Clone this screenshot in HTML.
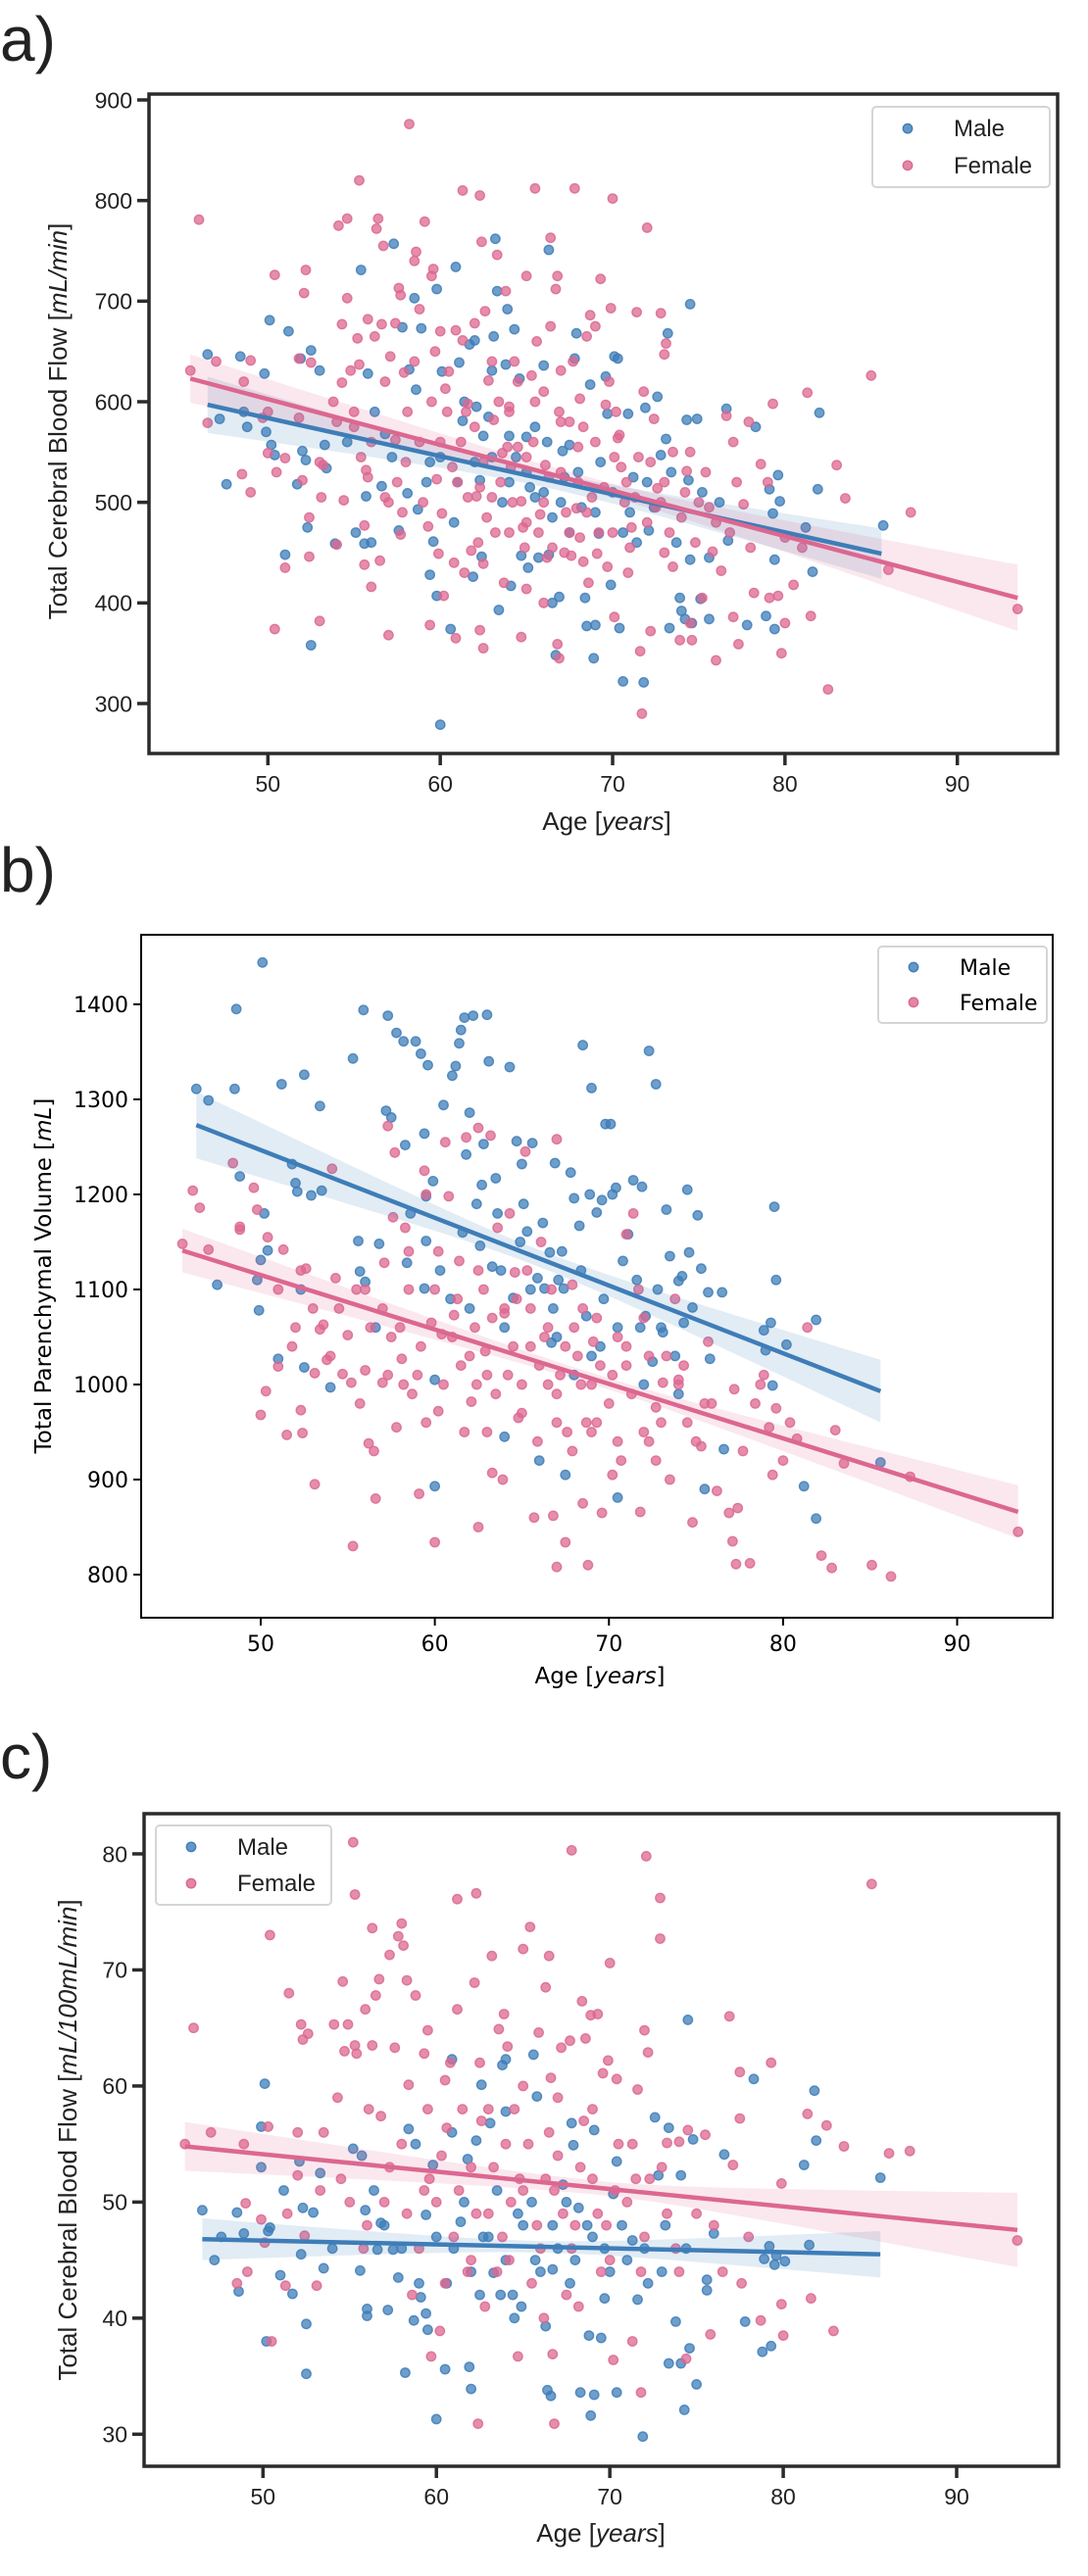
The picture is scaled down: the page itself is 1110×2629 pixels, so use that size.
<!DOCTYPE html>
<html><head><meta charset="utf-8">
<style>
html,body{margin:0;padding:0;background:#fff;}
svg{display:block;}
.lbl{font-family:"Liberation Sans",sans-serif;fill:#222;}
.dv{font-family:"DejaVu Sans","Liberation Sans",sans-serif;fill:#000;}
</style></head>
<body>
<svg id="fig" width="1110" height="2629" viewBox="0 0 1110 2629" xmlns="http://www.w3.org/2000/svg">
<text x="0" y="62" class="lbl" font-size="64" fill="#111">a)</text>
<text x="0" y="910" class="lbl" font-size="64" fill="#111">b)</text>
<text x="0" y="1815" class="lbl" font-size="64" fill="#111">c)</text>
</svg>
<script>
// ---------- Panel a data: Total CBF [mL/min] ----------
const aXTicks=[50,60,70,80,90];
const aYTicks=[300,400,500,600,700,800,900];
const aMale=[[46.5,647],[47.2,583],[47.6,518],[48.4,645],[48.6,590],[48.8,575],[49.8,628],[49.9,570],[50.1,681],[50.2,557],[50.4,547],[51,448],[51.2,670],[51.7,518],[51.9,643],[52,551],[52.2,542],[52.3,475],[52.5,651],[52.5,358],[53,631],[53.3,557],[53.4,534],[53.9,459],[55.1,470],[55.4,731],[55.6,459],[55.7,506],[55.8,628],[56,460],[56.6,516],[56.8,568],[57.3,757],[57.6,472],[57.8,674],[58.1,509],[58.2,632],[58.5,703],[58.7,493],[58.6,612],[58.9,673],[59.4,540],[59.4,428],[59.6,461],[59.8,407],[59.8,712],[60.1,630],[60,279],[60.6,374],[60.9,734],[61.1,639],[61.3,581],[61.7,657],[61.9,426],[62.0,661],[62.1,595],[62.3,522],[62.4,446],[62.5,566],[63.0,631],[63.1,665],[63.3,710],[63.2,762],[63.4,393],[63.8,637],[63.9,692],[64.0,566],[64.1,417],[64.3,672],[64.6,623],[64.7,447],[65.0,565],[65.1,435],[65.5,575],[65.7,445],[66.0,636],[66.3,751],[66.3,448],[66.5,400],[66.7,348],[66.9,406],[67.1,551],[67.5,557],[67.8,643],[67.9,668],[68.4,405],[68.5,377],[68.7,617],[68.9,345],[69.0,378],[69.2,469],[69.6,625],[69.7,588],[69.9,418],[70.1,645],[70.3,643],[70.4,375],[70.6,322],[70.9,588],[71.4,460],[71.8,321],[71.9,594],[72.1,472],[72.6,605],[72.8,547],[73.1,563],[73.2,668],[73.3,375],[73.7,460],[73.9,405],[74.0,392],[74.2,384],[74.3,582],[74.4,522],[74.5,443],[74.5,697],[74.6,380],[74.9,583],[75.1,404],[75.6,445],[75.6,384],[76.6,593],[76.7,462],[77.8,378],[78.3,575],[78.9,387],[79.1,513],[79.3,489],[79.4,374],[79.6,527],[79.7,501],[79.4,443],[81.2,475],[81.6,431],[81.9,513],[82,589],[85.7,477],[62,540],[63,545],[64,520],[65,530],[66,510],[67,500],[68,530],[69,490],[70,510],[71,490],[72,520],[61,520],[60,545],[65.5,505],[66.5,485],[67.5,470],[61.4,600],[62.8,585],[64.4,545],[65.2,515],[66.2,560],[67.2,525],[68.2,495],[69.3,540],[70.6,470],[71.2,525],[72.4,495],[73.4,530],[75.2,510],[76.2,500],[63.6,500],[60.8,480],[59.2,520],[57.2,545],[56.2,590],[54.6,560]];
const aFemale=[[45.5,631],[46.0,781],[46.5,579],[47,640],[48.5,528],[49,510],[49,641],[49.7,584],[50,549],[50.4,726],[50.5,530],[50.4,374],[51,435],[51,544],[51.8,643],[51.8,584],[52,522],[52.1,708],[52.2,731],[52.4,485],[52.4,446],[52.5,639],[53,382],[53.1,505],[53.2,537],[54,458],[54.1,775],[54.3,677],[54.3,619],[54.4,502],[54.6,782],[54.6,703],[54.8,631],[55,575],[55.2,663],[55.3,820],[55.3,637],[55.6,477],[55.6,438],[55.7,532],[55.8,682],[55.8,525],[56,416],[56.3,772],[56.2,665],[56.4,782],[56.6,677],[56.5,442],[56.7,755],[56.8,620],[57,500],[57,368],[57.1,645],[57.4,678],[57.4,562],[57.6,713],[57.7,706],[57.7,468],[57.9,629],[58.1,590],[58.2,876],[58.5,740],[58.6,749],[58.8,692],[59.1,779],[59.3,476],[59.4,378],[59.5,725],[59.6,732],[59.8,523],[59.9,449],[60.1,489],[60.2,407],[60.3,613],[60.5,630],[60.8,440],[60.9,671],[60.9,365],[61.3,810],[61.3,661],[61.6,598],[61.8,452],[62.0,678],[62.1,506],[62.3,805],[62.3,373],[62.4,759],[62.5,355],[62.5,439],[62.8,621],[63.1,582],[63.3,746],[63.6,549],[63.8,710],[64.0,595],[64.3,640],[64.7,501],[64.7,366],[65.0,725],[65.0,414],[65.3,626],[65.5,812],[65.8,488],[66.1,537],[66.4,763],[66.4,675],[66.7,712],[66.8,725],[66.8,359],[66.9,345],[67.0,631],[67.2,450],[67.5,580],[67.6,447],[67.8,812],[67.9,494],[68.1,603],[68.3,441],[68.5,665],[68.7,686],[69.0,675],[69.1,449],[69.3,722],[69.6,597],[69.7,436],[69.9,693],[70.0,802],[70.1,386],[70.3,564],[70.4,567],[70.7,500],[71.1,475],[71.4,689],[71.6,352],[71.7,290],[72,773],[72.2,372],[72.4,583],[72.6,514],[72.8,688],[73,647],[73.1,658],[73.5,436],[73.9,363],[74.3,531],[74.5,550],[74.5,380],[74.6,363],[74.8,460],[75.2,405],[75.6,495],[75.8,451],[76,343],[76.3,432],[76.6,586],[77,386],[77.2,520],[77.3,359],[77.6,498],[77.9,580],[78.2,410],[78.6,538],[79.1,405],[79.3,598],[79.6,407],[79.8,350],[80,380],[80.5,418],[81.3,609],[81.5,387],[82.5,314],[83,537],[83.5,504],[85,626],[86,433],[87.3,490],[93.5,394],[60,560],[61,520],[62,575],[62.5,540],[63,505],[63.5,520],[64,470],[64.5,555],[65,480],[65.5,600],[66,500],[66.5,455],[67,530],[67.5,470],[68,520],[68.5,490],[69,560],[69.5,515],[70,470],[70.5,535],[71,455],[71.5,545],[72,480],[72.5,495],[73,520],[61.5,590],[63,640],[64,590],[65,545],[66,610],[67,580],[68,555],[58,540],[59,500],[57.5,520],[56,560],[58.5,640],[60,670],[64.2,500],[63.2,470],[62.7,485],[65.7,470],[66.2,445],[68.8,505],[70.8,520],[72.8,500],[74,485],[75,500],[76,480],[76.8,470],[78,455],[80,465],[81,455],[77,560],[79,520],[73.5,550],[64.5,620],[61.2,560],[59.5,600],[55,590],[54,580],[53,540],[50,590],[48.6,620],[60.4,590],[61.6,505],[62.2,460],[63.4,600],[64.1,535],[64.8,475],[65.4,560],[66.3,525],[67.3,490],[68.3,575],[69.2,470],[70.2,590],[71.3,505],[72.2,540],[73.3,470],[74.2,510],[75.4,530],[58.8,560],[57.8,490],[56.8,505],[59.7,650],[62.6,690],[65.6,660],[67.7,640],[69.8,620],[71.8,610],[61.4,430],[63.7,420],[66,400],[68.6,420],[70.9,430],[73,450],[55.4,545],[53.8,600],[66.9,590],[63.9,555],[62.3,515],[70.1,545],[68.1,465],[64.9,455],[60.7,535]];
const aMaleFit=[[46.5,597],[85.6,449]];
const aFemaleFit=[[45.5,623],[93.5,405]];
const aMaleCI=[28,8,25];
const aFemaleCI=[24,7,33];

// ---------- Panel b data: Parenchymal volume [mL] ----------
const bXTicks=[50,60,70,80,90];
const bYTicks=[800,900,1000,1100,1200,1300,1400];
const bMale=[[46.3,1311],[47,1299],[47.5,1105],[48.5,1311],[48.6,1395],[48.8,1219],[49.8,1110],[49.9,1078],[50,1131],[50.1,1444],[50.2,1180],[50.4,1141],[51,1027],[51.2,1316],[51.8,1232],[52,1212],[52.1,1203],[52.3,1100],[52.5,1326],[52.5,1018],[52.9,1199],[53.4,1293],[53.5,1204],[54,997],[55.3,1343],[55.6,1151],[55.7,1119],[55.9,1394],[56,1108],[56.6,1060],[56.8,1148],[57.2,1288],[57.3,1388],[57.5,1281],[57.8,1370],[58.2,1361],[58.3,1252],[58.4,1128],[58.9,1361],[59.2,1348],[59.4,1264],[59.5,1198],[59.4,1101],[59.5,1151],[59.6,1336],[59.9,1214],[60,1005],[60.5,1294],[60.9,1090],[61,1325],[61.2,1335],[61.4,1359],[61.5,1373],[61.7,1386],[61.8,1242],[62,1286],[62.2,1388],[62.4,1190],[62.6,1146],[62.8,1253],[63,1389],[63.1,1340],[63.3,1124],[63.5,1217],[63.6,1180],[64.3,1334],[64.5,1091],[64.7,1256],[65,1232],[65.3,1161],[65.6,1254],[65.9,1112],[66.3,1101],[66.6,1139],[66.7,1044],[66.9,1233],[67.1,1110],[67.4,1101],[67.8,1223],[68,1196],[68.3,1167],[68.5,1357],[68.7,1072],[68.9,1200],[69,1312],[69.3,1181],[69.6,1194],[69.8,1274],[70.1,1274],[70.2,1200],[70.4,1207],[70.5,881],[71.1,1158],[71.4,1215],[71.6,1110],[71.9,1208],[72.1,1072],[72.3,1351],[72.5,1024],[72.7,1316],[73.1,1055],[73.3,1184],[73.5,1135],[74,1109],[74.2,1114],[74.3,1065],[74.5,1205],[74.6,1139],[74.8,1081],[75.1,1178],[75.3,1122],[75.8,1027],[75.7,1097],[76.5,1097],[76.6,932],[78.9,1057],[79,1036],[79.3,1065],[79.4,999],[79.5,1187],[79.6,1110],[80.2,1042],[81.2,893],[81.9,1068],[81.9,859],[85.6,918],[62,1080],[64,1060],[65.5,1100],[67,1050],[69,1030],[70.5,1060],[72,1000],[73,1060],[74,990],[75.5,890],[67.5,905],[66,920],[60,893],[64,945],[68,1010],[69.5,1040],[58.6,1180],[60.3,1120],[61.6,1160],[63.8,1120],[64.9,1150],[66.2,1170],[67.3,1140],[68.4,1120],[69.7,1090],[70.8,1130],[71.8,1060],[72.8,1100],[73.8,1030],[66.8,1080],[62.7,1210],[65.1,1190]];
const bFemale=[[45.5,1148],[46.1,1204],[46.5,1186],[47,1142],[48.4,1233],[48.8,1163],[48.8,1166],[49.6,1207],[49.8,1184],[50,968],[50.3,993],[50.4,1155],[51,1019],[51.3,1142],[51.5,947],[51.8,1040],[52.3,1120],[52.3,973],[52.4,949],[52.6,1122],[53.1,1012],[53.1,895],[53.4,1058],[53.6,1063],[53.8,1026],[54.1,1227],[54.3,1112],[54.7,1011],[55,1052],[55.2,1002],[55.3,830],[55.7,980],[56,1015],[56.2,938],[56.5,930],[56.6,880],[57,1002],[57.1,1128],[57.3,1272],[57.6,1176],[57.7,1244],[57.8,955],[58.1,1027],[58.3,1165],[58.5,1140],[58.7,990],[59.1,885],[59.4,1225],[59.5,1200],[59.8,1065],[60,834],[60.2,972],[60.4,1053],[60.6,1255],[60.8,1198],[61.1,1073],[61.4,1130],[61.8,1260],[62.1,982],[62.3,1060],[62.5,1270],[62.5,850],[62.9,1035],[63.2,1262],[63.3,907],[63.6,1165],[64,1075],[64.3,1180],[64.6,1118],[64.8,965],[65.2,1245],[65.5,1040],[65.7,860],[66.1,1150],[66.5,1060],[66.8,862],[67,1258],[67,808],[67.5,834],[67.6,950],[67.9,1105],[68.4,1000],[68.5,875],[68.8,810],[69.1,1045],[69.3,960],[69.6,865],[70.2,905],[70.5,940],[71,1158],[71.4,1180],[71.7,1100],[71.8,866],[72,1070],[72.3,940],[72.7,976],[73.1,1002],[73.5,900],[73.8,1090],[74,1005],[74.3,1020],[74.8,855],[75.3,935],[75.7,1045],[75.9,980],[76.2,888],[76.9,865],[77.1,835],[77.2,995],[77.3,811],[77.4,870],[77.7,930],[78.1,812],[78.4,980],[78.7,1000],[78.9,1010],[79.2,955],[79.4,905],[79.6,975],[80.0,920],[80.4,960],[80.8,943],[81.4,1060],[82.2,820],[82.8,807],[83,952],[83.5,917],[85.1,810],[86.2,798],[87.3,903],[93.5,845],[60,1100],[61,1050],[62,1030],[63,1010],[64,1080],[65,1000],[66,1020],[67,990],[68,1060],[69,1000],[70,980],[71,1020],[72,950],[73,960],[74,1000],[75,940],[58,1060],[59,1010],[57,1080],[56,1100],[61.5,1020],[62.5,1120],[63.5,990],[64.5,1040],[65.5,1080],[66.5,1000],[67.5,1040],[68.5,1080],[69.5,1020],[70.5,1050],[60.5,1000],[59.5,960],[58.5,1100],[57.5,1050],[55.5,1100],[54.5,1080],[63,950],[65,970],[67,960],[69,950],[71,1040],[60.2,1140],[61.3,1090],[62.4,1000],[63.3,1070],[64.2,1010],[65.3,1120],[66.3,1050],[67.2,1010],[68.2,1030],[69.3,1070],[70.2,1010],[71.3,990],[72.3,1030],[73.3,1030],[74.5,960],[75.5,980],[59.2,1040],[58.2,1000],[57.3,1010],[56.3,1060],[62.8,1100],[64.7,1090],[66.7,1100],[68.7,960],[70.7,920],[72.7,920],[61.7,950],[63.9,900],[65.9,940],[67.9,930],[54,1030],[53,1080],[52,1060],[51,1100]];
const bMaleFit=[[46.3,1273],[85.6,993]];
const bFemaleFit=[[45.5,1141],[93.5,866]];
const bMaleCI=[35,9,33];
const bFemaleCI=[23,6,28];

// ---------- Panel c data: CBF [mL/100mL/min] ----------
const cXTicks=[50,60,70,80,90];
const cYTicks=[30,40,50,60,70,80];
const cMale=[[46.5,49.3],[47.2,45],[47.6,47],[48.5,49.1],[48.6,42.3],[48.9,47.3],[49.9,56.5],[49.9,53],[50.1,60.2],[50.2,38],[50.3,47.5],[50.4,47.8],[51,43.7],[51.2,51],[51.7,42.1],[52.1,53.5],[52.2,45.5],[52.3,49.5],[52.5,39.5],[52.5,35.2],[52.9,49.1],[53.3,52.5],[53.5,44.3],[54,46],[55.2,54.6],[55.6,44.1],[55.7,54],[55.9,49.3],[56,40.2],[56,40.8],[56.6,45.9],[56.8,48.2],[57.2,40.7],[57.5,45.9],[57.8,43.5],[58.2,35.3],[58.4,56.3],[58.7,39.8],[58.8,55],[59.1,41.8],[59.4,48.9],[59.4,40.4],[59.5,39],[59.8,53.2],[60,31.3],[60.5,35.6],[60.9,62.3],[60.9,56],[61.4,48.3],[61.8,53.7],[61.9,35.8],[62,33.9],[62.3,55.3],[62.6,60.1],[63.1,56.8],[63.3,43.9],[63.8,61.8],[64,62.3],[64,57.8],[64.4,42],[64.9,41],[65.6,62.7],[65.8,59.1],[66.3,39.3],[66.4,33.8],[66.6,33.3],[66.7,44.2],[67.3,51.5],[67.8,56.8],[67.9,54.9],[68.2,49.5],[68.3,33.6],[68.8,38.5],[68.9,31.6],[69.1,33.4],[69.1,56.2],[69.5,38.3],[69.7,41.7],[70.2,50.7],[70.4,53.5],[70.4,33.6],[71.3,46.7],[71.6,41.6],[71.9,29.8],[72.6,57.3],[72.8,52.3],[73.4,56.4],[73.4,36.1],[73.8,39.7],[74.1,52.3],[74.1,36.1],[74.3,32.1],[74.5,65.7],[74.6,37.4],[74.8,55.4],[75,34.3],[75.6,43.3],[75.6,42.4],[76,47.3],[76.6,54.1],[77.8,39.7],[78.3,60.6],[78.8,37.1],[78.9,45.1],[79.2,46.2],[79.3,37.6],[79.5,44.6],[79.6,45.4],[80.1,44.9],[81.2,53.2],[81.5,46.3],[81.8,59.6],[81.9,55.3],[85.6,52.1],[61,46],[62,44],[63,47],[64,45],[65,48],[66,44],[67,46],[68,45],[69,47],[70,44],[71,45],[72,46],[73,44],[65.5,50],[63.5,51],[67.5,50],[60,47],[58,46],[59,43],[62.5,42],[64.5,40],[60.6,43],[61.6,50],[62.7,47],[63.7,42],[64.7,49],[65.7,45],[66.7,48],[67.7,43],[68.7,48],[69.7,46],[70.7,48],[72.2,43],[73.2,48],[74.4,46],[57,48],[56.4,51]];
const cFemale=[[45.5,55],[46,65],[47,56],[48.5,43],[48.9,55],[49,49.9],[49.1,44],[49.9,48.5],[50.1,46.5],[50.3,56.5],[50.4,73],[50.5,38],[51.3,42.8],[51.4,49],[51.5,68],[52,56],[52,52.3],[52.2,65.3],[52.3,64],[52.4,47.1],[52.6,64.5],[53.1,42.8],[53.3,51],[54.1,65.3],[54.3,59],[54.6,69],[54.7,63],[54.9,65.3],[55,50],[55.2,81],[55.3,76.5],[55.3,63.5],[55.4,62.8],[55.9,66.6],[56.1,58],[56.3,73.6],[56.3,63.5],[56.5,67.8],[56.7,69.2],[56.8,57.4],[57.3,71.3],[57.6,63.3],[57.8,72.9],[58,74],[58.1,72.1],[58.3,69.1],[58.4,60.1],[58.8,67.8],[59.3,62.8],[59.5,64.8],[59.6,52],[59.7,36.7],[60.2,38.9],[60.5,60.5],[60.6,56.4],[61.2,76.1],[61.2,66.6],[62.2,68.9],[62.3,76.6],[62.5,62],[62.4,30.9],[63.2,71.2],[63.6,64.9],[63.9,66.2],[64.1,63.4],[64.7,36.7],[65,71.8],[65.4,73.7],[65.9,64.6],[66.3,68.5],[66.5,71.2],[66.6,60.7],[66.7,36.9],[66.8,30.9],[67.2,63.3],[67.7,63.9],[67.8,80.3],[68.4,67.3],[68.6,64.1],[68.9,66.1],[69.3,66.2],[69.6,61.1],[69.9,62.2],[70,70.6],[70.2,36.4],[70.4,60.6],[71.3,38],[71.6,59.7],[71.8,33.6],[72,64.8],[72.1,79.8],[72.2,62.9],[72.9,76.2],[72.9,72.7],[73.3,55.1],[74,55.2],[74.4,36.5],[74.5,56.2],[75.5,55.8],[75.8,38.6],[76.9,66],[77.1,53.2],[77.5,57.2],[77.5,61.2],[77.6,43],[78.7,39.8],[79.3,62],[79.9,51.6],[79.9,41.2],[80,38.5],[81.4,57.6],[81.6,41.7],[82.5,56.6],[82.9,38.9],[83.5,54.8],[85.1,77.4],[86.1,54.2],[87.3,54.4],[93.5,46.7],[60,50],[61,47],[62,53],[63,49],[64,55],[65,51],[66,46],[67,54],[68,48],[69,52],[70,45],[71,50],[72,47],[73,53],[61.5,58],[63.5,44],[64.5,58],[65.5,43],[66.5,56],[67.5,42],[68.5,57],[69.5,44],[70.5,55],[58,55],[59,46],[57,50],[56,48],[62.8,41],[64.2,45],[66.2,40],[68.2,41],[73.8,46],[75,49],[76,48],[74,44],[71.5,52],[60.5,43],[59.5,58],[62,45],[65,60],[63,58],[60.3,54],[61.3,51],[62.3,49],[63.3,53],[64.3,50],[65.3,55],[66.3,52],[67.3,49],[68.3,53],[69.3,49],[70.3,51],[71.3,55],[72.3,52],[73.3,49],[57.3,53],[58.3,49],[59.3,51],[61.8,44],[63.8,47],[65.8,48],[67.8,46],[69.8,48],[71.8,44],[64.8,52],[66.8,51],[62.6,57],[60.8,62],[67,59],[69,58],[58.6,42],[55.8,46],[54.5,52],[53.5,56],[76.5,44],[78,47]];
const cMaleFit=[[46.5,46.8],[85.6,45.5]];
const cFemaleFit=[[45.5,54.8],[93.5,47.6]];
const cMaleCI=[1.8,0.5,2.0];
const cFemaleCI=[2.1,0.6,3.2];

const BLUE='#3e7db8', PINK='#dc6790';
const NS='http://www.w3.org/2000/svg';
const svg=document.getElementById('fig');
function mk(tag,attrs,parent){const e=document.createElementNS(NS,tag);for(const k in attrs)e.setAttribute(k,attrs[k]);(parent||svg).appendChild(e);return e;}

function panel(p){
  const g=mk('g',{});
  
  
  const sx=v=>p.x0px+(v-p.x0)*(p.x1px-p.x0px)/(p.x1-p.x0);
  const sy=v=>p.y0px+(v-p.y0)*(p.y1px-p.y0px)/(p.y1-p.y0);
  const cls=p.dv?'dv':'lbl';
  function band(fit,ci,col,name){
    const xa=fit[0][0],xb=fit[1][0],xm=(xa+xb)/2;
    const up=[],dn=[];
    for(let i=0;i<=60;i++){
      const x=xa+(xb-xa)*i/60;
      const y=fit[0][1]+(fit[1][1]-fit[0][1])*(x-xa)/(xb-xa);
      const end=x<xm?ci[0]:ci[2];const t=(x-xm)/(xb-xa)*2;
      const h=Math.sqrt(ci[1]*ci[1]+(end*end-ci[1]*ci[1])*t*t);
      up.push(sx(x).toFixed(1)+','+sy(y+h).toFixed(1));
      dn.unshift(sx(x).toFixed(1)+','+sy(y-h).toFixed(1));
    }
    const b=mk('polygon',{points:up.concat(dn).join(' '),fill:col,'fill-opacity':0.15},g);
    
    
  }
  function pts(arr,col,name){
    const sg=mk('g',{},g);
    
    
    arr.forEach(d=>{
      const c=mk('circle',{cx:sx(d[0]).toFixed(1),cy:sy(d[1]).toFixed(1),r:4.7,fill:col,'fill-opacity':0.75,stroke:col,'stroke-opacity':0.85,'stroke-width':1.4},sg);
      
      
    });
  }
  function line(fit,col,name){
    const l=mk('line',{x1:sx(fit[0][0]),y1:sy(fit[0][1]),x2:sx(fit[1][0]),y2:sy(fit[1][1]),stroke:col,'stroke-width':4.5},g);
    
    
  }
  pts(p.male,BLUE,p.id+'-male-points');
  pts(p.female,PINK,p.id+'-female-points');
  band(p.mfit,p.mci,BLUE,p.id+'-male-ci');
  band(p.ffit,p.fci,PINK,p.id+'-female-ci');
  line(p.mfit,BLUE,p.id+'-male-fit');
  line(p.ffit,PINK,p.id+'-female-fit');
  const fc=p.dv?'#000':'#2b2b2b', fw=p.dv?2:3.5;
  const fr=mk('rect',{x:p.L,y:p.T,width:p.R-p.L,height:p.B-p.T,fill:'none',stroke:fc,'stroke-width':fw},g);
  
  
  const tl=p.dv?8:12, fs=p.dv?22:23;
  p.xt.forEach(v=>{
    const x=sx(v);
    mk('line',{x1:x,y1:p.B,x2:x,y2:p.B+tl,stroke:fc,'stroke-width':fw},g);
    const t=mk('text',{x:x,y:p.B+tl+fs+4,'text-anchor':'middle','font-size':fs,class:cls},g);
    t.textContent=v;
    
    
  });
  p.yt.forEach(v=>{
    const y=sy(v);
    mk('line',{x1:p.L-tl,y1:y,x2:p.L,y2:y,stroke:fc,'stroke-width':fw},g);
    const t=mk('text',{x:p.L-tl-5,y:y+fs*0.36,'text-anchor':'end','font-size':fs,class:cls},g);
    t.textContent=v;
    
    
  });
  const xt=mk('text',{x:p.xtx,y:p.xty,'text-anchor':'middle','font-size':p.dv?23:26,class:cls},g);
  xt.innerHTML='Age [<tspan font-style="italic">years</tspan>]';
  
  
  const yt=mk('text',{x:0,y:0,'text-anchor':'middle','font-size':p.dv?23:26,class:cls,transform:'translate('+p.ytx+','+p.yty+') rotate(-90)'},g);
  yt.innerHTML=p.ylab;
  
  
  const lg=mk('g',{},g);
  
  
  mk('rect',{x:p.lg[0],y:p.lg[1],width:p.lg[2],height:p.lg[3],rx:4,fill:'#fff','fill-opacity':0.85,stroke:'#d5d5d5','stroke-width':2},lg);
  [['Male',BLUE],['Female',PINK]].forEach((e,i)=>{
    const y=p.lg[1]+p.lg[3]*(0.27+0.46*i);
    const en=mk('g',{},lg);
    
    
    mk('circle',{cx:p.lg[0]+36,cy:y,r:4.7,fill:e[1],'fill-opacity':0.8,stroke:e[1],'stroke-width':1.4},en);
    const t=mk('text',{x:p.lg[0]+83,y:y+8,'font-size':p.dv?22:24,class:cls},en);
    t.textContent=e[0];
  });
}

panel({id:'panel-a',male:aMale,female:aFemale,mfit:aMaleFit,ffit:aFemaleFit,mci:aMaleCI,fci:aFemaleCI,xt:aXTicks,yt:aYTicks,
  L:152,R:1079,T:96,B:769,x0:50,x1:90,x0px:273.3,x1px:976.7,y0:900,y1:300,y0px:102,y1px:718,
  xtx:619,xty:847,ytx:68,yty:430,ylab:'Total Cerebral Blood Flow [<tspan font-style="italic">mL/min</tspan>]',lg:[890,109,181,82]});
panel({id:'panel-b',dv:true,male:bMale,female:bFemale,mfit:bMaleFit,ffit:bFemaleFit,mci:bMaleCI,fci:bFemaleCI,xt:bXTicks,yt:bYTicks,
  L:144,R:1074,T:954,B:1651,x0:50,x1:90,x0px:266,x1px:976.5,y0:900,y1:800,y0px:1510,y1px:1607,
  xtx:612,xty:1718,ytx:52,yty:1302,ylab:'Total Parenchymal Volume  [<tspan font-style="italic">mL</tspan>]',lg:[896,966,172,78]});
panel({id:'panel-c',male:cMale,female:cFemale,mfit:cMaleFit,ffit:cFemaleFit,mci:cMaleCI,fci:cFemaleCI,xt:cXTicks,yt:cYTicks,
  L:147,R:1080,T:1851,B:2517,x0:50,x1:90,x0px:268.3,x1px:976,y0:80,y1:30,y0px:1892,y1px:2484.3,
  xtx:613,xty:2594,ytx:78,yty:2184,ylab:'Total Cerebral Blood Flow [<tspan font-style="italic">mL/100mL/min</tspan>]',lg:[159,1863,179,81]});
</script>
</body></html>
